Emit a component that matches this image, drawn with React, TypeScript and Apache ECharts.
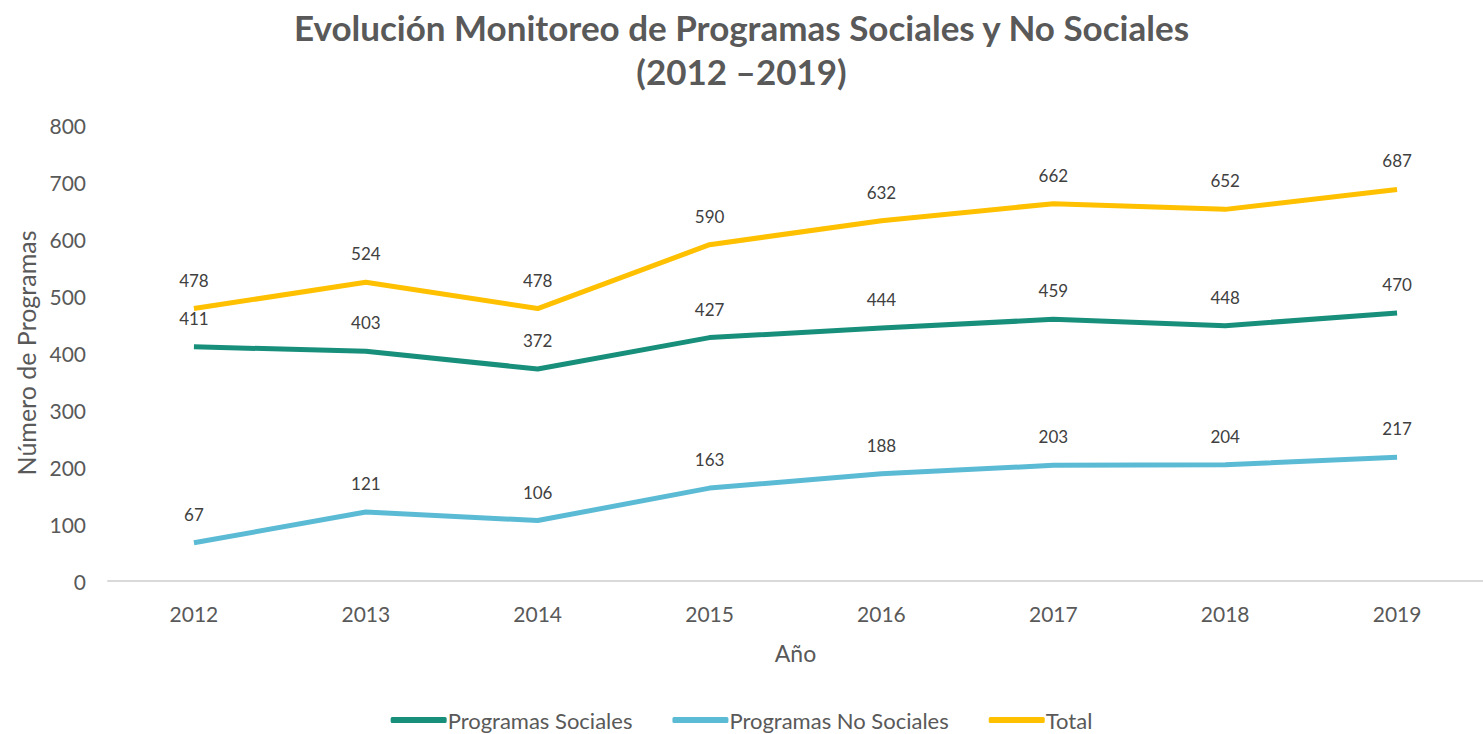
import React, { useEffect, useRef } from "react";
import * as echarts from "echarts";

const years = ["2012", "2013", "2014", "2015", "2016", "2017", "2018", "2019"];
const sociales = [411, 403, 372, 427, 444, 459, 448, 470];
const noSociales = [67, 121, 106, 163, 188, 203, 204, 217];
const total = [478, 524, 478, 590, 632, 662, 652, 687];

const FONT = "Lato, 'Open Sans', sans-serif";

export default function App() {
  const ref = useRef<HTMLDivElement>(null);
  useEffect(() => {
    document.body.style.margin = "0";
    const chart = echarts.init(ref.current!, undefined, { renderer: "svg" });
    const label = {
      show: true,
      position: "top",
      distance: 20,
      fontSize: 17,
      color: "#404040",
      fontFamily: FONT,
    };
    const mk = (name: string, data: number[], color: string) => ({
      name,
      type: "line",
      data,
      symbol: "circle",
      symbolSize: 0,
      showSymbol: true,
      lineStyle: { width: 5, color },
      itemStyle: { color },
      label,
    });
    chart.setOption({
      animation: false,
      textStyle: { fontFamily: FONT },
      title: {
        text: "Evolución Monitoreo de Programas Sociales y No Sociales\n(2012 –2019)",
        left: "center",
        top: 0,
        textStyle: {
          fontSize: 35,
          fontWeight: "bold",
          color: "#595959",
          lineHeight: 44,
          fontFamily: FONT,
        },
      },
      legend: {
        bottom: -2,
        left: "center",
        itemWidth: 56,
        itemHeight: 6,
        itemGap: 40,
        icon: "roundRect",
        textStyle: { fontSize: 22, color: "#595959", fontFamily: FONT, padding: [0, 0, 0, -4] },
        data: ["Programas Sociales", "Programas No Sociales", "Total"],
      },
      grid: { left: 108, top: 125, width: 1381, height: 456, containLabel: false },
      xAxis: {
        type: "category",
        data: years,
        boundaryGap: true,
        axisLine: { lineStyle: { color: "#d9d9d9", width: 2 } },
        axisTick: { show: false },
        axisLabel: { fontSize: 21, color: "#595959", margin: 22, fontFamily: FONT },
        name: "Año",
        nameLocation: "middle",
        nameGap: 60,
        nameTextStyle: { fontSize: 23, color: "#595959", fontFamily: FONT },
      },
      yAxis: {
        type: "value",
        min: 0,
        max: 800,
        interval: 100,
        splitLine: { show: false },
        axisLine: { show: false },
        axisTick: { show: false },
        axisLabel: { fontSize: 21, color: "#595959", margin: 22, fontFamily: FONT },
        name: "Número de Programas",
        nameLocation: "middle",
        nameGap: 68,
        nameRotate: 90,
        nameTextStyle: { fontSize: 25, color: "#595959", fontFamily: FONT },
      },
      series: [
        mk("Programas Sociales", sociales, "#178F7B"),
        mk("Programas No Sociales", noSociales, "#5BBBD5"),
        mk("Total", total, "#FFC000"),
      ],
    });
    return () => chart.dispose();
  }, []);
  return <div ref={ref} style={{ width: 1483, height: 734 }} />;
}
